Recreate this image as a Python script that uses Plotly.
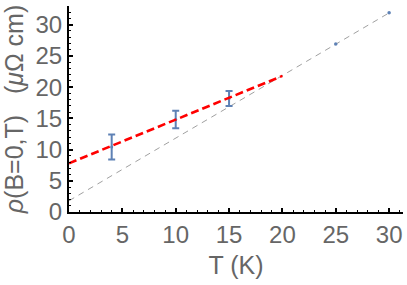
import plotly.graph_objects as go

# Data
T_err = [4, 10, 15]
rho_err = [10.4, 14.8, 18.2]
rho_errbar = [2.0, 1.4, 1.2]
T_pts = [25, 30]
rho_pts = [26.9, 31.9]
fit_T = [0, 20]
fit_rho = [7.8, 21.8]
ref_T = [0, 30]
ref_rho = [1.8, 31.9]

x_ticks = [0, 5, 10, 15, 20, 25, 30]
y_ticks = [0, 5, 10, 15, 20, 25, 30]

blue = "#5E81B5"
gray_txt = "#666666"
font_family = "Liberation Sans, Arial, sans-serif"

fig = go.Figure()
fig.add_trace(go.Scatter(x=ref_T, y=ref_rho, mode="lines",
                         line=dict(color="#888888", width=0.8, dash="6px,5px"),
                         hoverinfo="skip", showlegend=False))
fig.add_trace(go.Scatter(x=T_err, y=rho_err, mode="markers",
                         marker=dict(color=blue, size=3),
                         error_y=dict(type="data", array=rho_errbar, visible=True,
                                      color=blue, thickness=2, width=3.5),
                         showlegend=False))
fig.add_trace(go.Scatter(x=T_pts, y=rho_pts, mode="markers",
                         marker=dict(color=blue, size=3.5), showlegend=False))
fig.add_trace(go.Scatter(x=fit_T, y=fit_rho, mode="lines",
                         line=dict(color="#FF0000", width=2.6, dash="8px,4px"),
                         showlegend=False))

axis_common = dict(
    showgrid=False, zeroline=False, showline=True, linecolor="black", linewidth=2,
    ticks="inside", ticklen=4, tickwidth=1.5, tickcolor="black",
    tickfont=dict(family=font_family, size=24, color=gray_txt),
    minor=dict(ticks="inside", ticklen=2, tickwidth=1, tickcolor="black", dtick=1),
    automargin=False,
)

fig.update_layout(
    width=407, height=285,
    margin=dict(l=69, r=4, t=6, b=73),
    paper_bgcolor="white", plot_bgcolor="white",
    xaxis=dict(range=[0, 31.3], tickvals=x_ticks, ticktext=[str(v) for v in x_ticks],
               title=dict(text="T (K)", font=dict(family=font_family, size=25, color=gray_txt),
                          standoff=10),
               **axis_common),
    yaxis=dict(range=[0, 33], tickvals=y_ticks, ticktext=[str(v) for v in y_ticks],
               title=dict(text="<i>ρ</i>(B=0,T)\u00a0\u00a0\u00a0(<i>μ</i>Ω cm)",
                          font=dict(family=font_family, size=25, color=gray_txt),
                          standoff=6),
               **axis_common),
)

fig.write_html("out.html",
               config={"displayModeBar": False},
               post_script="document.body.style.margin='0';document.body.style.overflow='hidden';")
